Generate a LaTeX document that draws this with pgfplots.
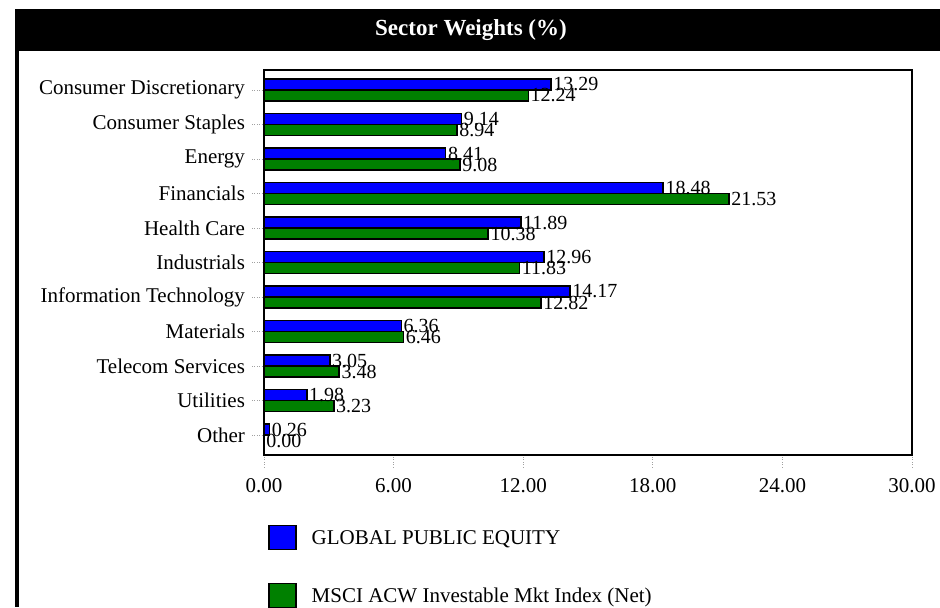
\documentclass[border=0pt]{standalone}
\usepackage{fontspec}
\setmainfont{Liberation Serif}
\usepackage{pgfplots}
\pgfplotsset{compat=1.18}
\definecolor{gpblue}{HTML}{0000FF}
\definecolor{msgreen}{HTML}{008000}
\definecolor{tickgrey}{HTML}{A0A0A0}

\begin{document}
\begin{tikzpicture}
\useasboundingbox (0pt,0pt) rectangle (470pt,-303.5pt);
% header bar and left rule
\fill[black] (7.5pt,-4.5pt) rectangle (470pt,-25.5pt);
\fill[black] (7.5pt,-4.5pt) rectangle (9.5pt,-303.5pt);
\node[text=white,font=\fontsize{11.5}{14}\selectfont\bfseries] at (235.5pt,-15pt) {Sector Weights (\%)};
\begin{axis}[
  at={(132pt,-227.5pt)}, anchor=south west,
  scale only axis, width=324pt, height=192.5pt,
  xbar, bar width=5.5pt,
  xmin=0, xmax=30, xtick={0,6,12,18,24,30},
  ymin=-0.58, ymax=10.58, ytick={0,...,10},
  yticklabels={Other, Utilities, Telecom Services, Materials,
    Information Technology, Industrials, Health Care, Financials,
    Energy, Consumer Staples, Consumer Discretionary},
  axis line style={black, line width=0.8pt},
  tick pos=left,
  tick align=outside, major tick length=6pt,
  major tick style={tickgrey, densely dotted, line width=0.5pt},
  tick label style={font=\fontsize{10.5}{12}\selectfont},
  xticklabel style={yshift=-2pt, /pgf/number format/.cd, fixed, fixed zerofill,
    precision=2, assume math mode=true},
  nodes near coords,
  every node near coord/.append style={font=\fontsize{10}{11}\selectfont,
    black, inner sep=0.8pt,
    /pgf/number format/.cd, fixed, fixed zerofill, precision=2,
    assume math mode=true},
  legend style={at={(axis description cs:0.006,-0.18)}, anchor=north west,
    draw=none, fill=none, inner sep=0pt, row sep=16pt,
    font=\fontsize{10.5}{12}\selectfont,
    /tikz/every odd column/.append style={column sep=5.5pt}},
  legend cell align=left,
  legend image code/.code={\draw[#1, line width=0.7pt] (0pt,-5.4pt) rectangle (13.5pt,6.6pt);},
]
% GLOBAL PUBLIC EQUITY
\addplot[fill=gpblue, draw=black, line width=0.75pt, bar shift=2.75pt] coordinates {
  (13.29,10) (9.14,9) (8.41,8) (18.48,7) (11.89,6) (12.96,5)
  (14.17,4) (6.36,3) (3.05,2) (1.98,1) (0.26,0)};
% MSCI ACW Investable Mkt Index (Net)
\addplot[fill=msgreen, draw=black, line width=0.75pt, bar shift=-2.75pt] coordinates {
  (12.24,10) (8.94,9) (9.08,8) (21.53,7) (10.38,6) (11.83,5)
  (12.82,4) (6.46,3) (3.48,2) (3.23,1) (0.00,0)};
\legend{GLOBAL PUBLIC EQUITY, MSCI ACW Investable Mkt Index (Net)}
\end{axis}
\end{tikzpicture}
\end{document}
